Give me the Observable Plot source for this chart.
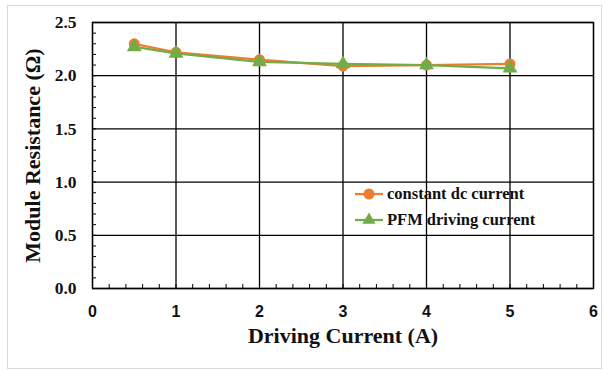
<!DOCTYPE html>
<html><head><meta charset="utf-8">
<script src="https://cdn.jsdelivr.net/npm/d3@7"></script>
<script src="https://cdn.jsdelivr.net/npm/@observablehq/plot@0.6"></script>
<style>
body{margin:0;background:#fff;}
#wrap{position:relative;width:605px;height:370px;overflow:hidden;}
#border{position:absolute;left:7px;top:5px;width:595px;height:364px;border:1px solid #d9d9d9;box-sizing:border-box;}
#chart{position:absolute;left:0;top:0;}
#legend{position:absolute;left:354px;top:181px;font:bold 16.5px "Liberation Serif",serif;color:#111;}
.item{display:flex;align-items:center;height:26px;}
.item svg{margin-right:3px;}
</style></head>
<body><div id="wrap"><div id="border"></div><div id="chart"></div><div id="legend"></div></div>
<script>
const currents = [0.5, 1, 2, 3, 4, 5];
const dcValues = [2.30, 2.22, 2.15, 2.09, 2.10, 2.11];
const pfmValues = [2.27, 2.21, 2.13, 2.11, 2.10, 2.07];
const seriesNames = ["constant dc current", "PFM driving current"];
const seriesColors = ["#ED7D31", "#70AD47"];
const seriesSymbols = ["circle", "triangle"];
const xTicks = [0, 1, 2, 3, 4, 5, 6];
const yTicks = [0, 0.5, 1.0, 1.5, 2.0, 2.5];
const xMinor = d3.range(0, 6.001, 0.2);
const yMinor = d3.range(0, 2.501, 0.1);
const xTitle = "Driving Current (A)";
const yTitle = "Module Resistance (Ω)";

const dcData = currents.map((c, i) => ({x: c, y: dcValues[i], s: seriesNames[0]}));
const pfmData = currents.map((c, i) => ({x: c, y: pfmValues[i], s: seriesNames[1]}));

const chart = Plot.plot({
  width: 605, height: 370,
  marginLeft: 92, marginRight: 12, marginTop: 22, marginBottom: 82,
  style: {background: "transparent"},
  x: {domain: [0, 6]},
  y: {domain: [0, 2.5]},
  color: {domain: seriesNames, range: seriesColors},
  symbol: {domain: seriesNames, range: seriesSymbols},
  marks: [
    Plot.gridX(xTicks, {stroke: "#000", strokeOpacity: 1, strokeWidth: 1.3}),
    Plot.gridY(yTicks, {stroke: "#000", strokeOpacity: 1, strokeWidth: 1.3}),
    Plot.frame({stroke: "#000", strokeWidth: 1.3}),
    Plot.axisY(yMinor, {anchor: "left", tickSize: 4, dx: 4, tickFormat: () => "", label: null, stroke: "#000"}),
    Plot.axisX(xMinor, {anchor: "bottom", tickSize: 4, dy: -4, tickFormat: () => "", label: null, stroke: "#000"}),
    Plot.axisY(yTicks, {anchor: "left", tickSize: 0, tickPadding: 16, tickFormat: d => d.toFixed(1), label: null,
      fontSize: 17.5, fontWeight: "bold", fontFamily: "Liberation Serif", fill: "#111"}),
    Plot.axisX(xTicks, {anchor: "bottom", tickSize: 0, tickPadding: 17, label: null,
      fontSize: 16, fontWeight: "bold", fontFamily: "Liberation Sans", fill: "#111"}),
    Plot.text([xTitle], {frameAnchor: "bottom", dy: 54, fontSize: 22, fontWeight: "bold", fontFamily: "Liberation Serif", fill: "#111"}),
    Plot.text([yTitle], {frameAnchor: "left", textAnchor: "middle", lineAnchor: "middle", rotate: -90, dx: -60, fontSize: 22, fontWeight: "bold", fontFamily: "Liberation Serif", fill: "#111"}),
    Plot.line(dcData, {x: "x", y: "y", stroke: "s", strokeWidth: 2.25}),
    Plot.dot(dcData, {x: "x", y: "y", fill: "s", symbol: "s", r: 5.5}),
    Plot.line(pfmData, {x: "x", y: "y", stroke: "s", strokeWidth: 2.25}),
    Plot.dot(pfmData, {x: "x", y: "y", fill: "s", symbol: "s", r: 5.5})
  ]
});
document.getElementById("chart").append(chart);

const legend = document.getElementById("legend");
seriesNames.forEach((name, i) => {
  const div = document.createElement("div");
  div.className = "item";
  const sym = seriesSymbols[i] === "circle"
    ? `<circle cx="15" cy="8" r="5.5" fill="${seriesColors[i]}"/>`
    : `<path d="${d3.symbol(d3.symbolTriangle, 75)()}" transform="translate(15,8)" fill="${seriesColors[i]}"/>`;
  div.innerHTML = `<svg width="30" height="16"><line x1="1" x2="29" y1="8" y2="8" stroke="${seriesColors[i]}" stroke-width="2.25"/>${sym}</svg><span>${name}</span>`;
  legend.append(div);
});
</script>
</body></html>
